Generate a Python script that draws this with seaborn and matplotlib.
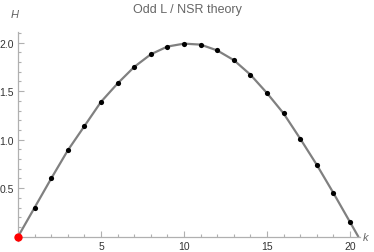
import matplotlib
matplotlib.use('Agg')
import matplotlib.pyplot as plt
import seaborn as sns
from matplotlib.ticker import MultipleLocator

# values
k = [1, 2, 3, 4, 5, 6, 7, 8, 9, 10, 11, 12, 13, 14, 15, 16, 17, 18, 19, 20]
H = [0.30, 0.60, 0.89, 1.14, 1.39, 1.58, 1.75, 1.88, 1.96, 1.99,
     1.98, 1.92, 1.82, 1.67, 1.48, 1.27, 1.01, 0.74, 0.45, 0.15]
curve_k = [0] + k + [20.5]
curve_H = [0] + H + [0]
origin_k = [0]
origin_H = [0]

sns.set_style('white')
plt.rcParams['font.family'] = ['Liberation Sans', 'DejaVu Sans']

fig = plt.figure(figsize=(3.74, 2.53), dpi=100)
ax = fig.add_axes([18 / 374, (253 - 237.7) / 253, 342 / 374, 204.7 / 253])

axis_col = '#b0b0b0'
sns.lineplot(x=curve_k, y=curve_H, ax=ax, color='#808080', linewidth=1.6)
sns.scatterplot(x=k, y=H, ax=ax, color='black', s=14, linewidth=0, zorder=3)
sns.scatterplot(x=origin_k, y=origin_H, ax=ax, color='#ff0000', s=36,
                linewidth=0, zorder=4, clip_on=False)

ax.set_xlim(0, 20.6)
ax.set_ylim(0, 2.11)
for s in ['top', 'right']:
    ax.spines[s].set_visible(False)
for s in ['left', 'bottom']:
    ax.spines[s].set_color(axis_col)
    ax.spines[s].set_linewidth(0.9)
ax.spines['left'].set_bounds(-0.04, 2.11)
ax.spines['bottom'].set_bounds(-0.2, 20.6)

ax.xaxis.set_major_locator(MultipleLocator(5))
ax.xaxis.set_minor_locator(MultipleLocator(1))
ax.yaxis.set_major_locator(MultipleLocator(0.5))
ax.yaxis.set_minor_locator(MultipleLocator(0.1))
ax.set_xticks([5, 10, 15, 20])
ax.set_yticks([0.5, 1.0, 1.5, 2.0])
ax.set_yticklabels(['0.5', '1.0', '1.5', '2.0'])
ax.tick_params(which='both', direction='in', color=axis_col, labelcolor='#333333',
               labelsize=7.5, width=0.8)
ax.tick_params(which='major', length=4, pad=3)
ax.tick_params(which='minor', length=2.2)
ax.tick_params(axis='both', which='both', bottom=True, left=True)

ax.set_xlabel('')
ax.set_ylabel('')
ax.text(20.75, 0, 'k', style='italic', color='#666666', fontsize=8,
        ha='left', va='center', clip_on=False)
ax.text(-0.2, 2.3, 'H', style='italic', color='#666666', fontsize=8,
        ha='center', va='center', clip_on=False)
fig.text(0.5, 0.96, 'Odd L / NSR theory', color='#666666', fontsize=9,
         ha='center', va='center')

fig.savefig('out.png', dpi=100)
